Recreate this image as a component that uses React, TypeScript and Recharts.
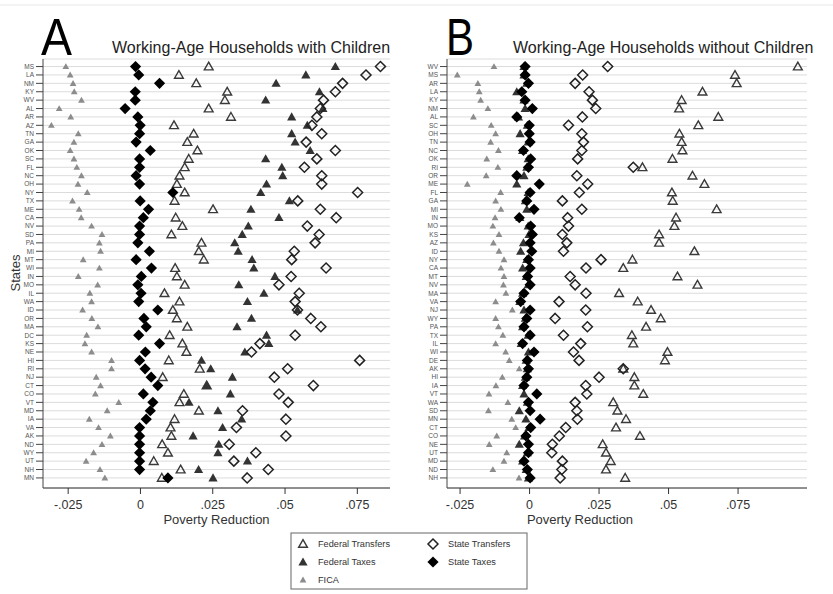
import React from "react";
import { ScatterChart, Scatter, XAxis, YAxis, CartesianGrid } from "recharts";

const FONT = "'Liberation Sans', Arial, Helvetica, sans-serif";

// ---------- Panel A: Working-Age Households with Children ----------
const statesA = ["MS","LA","NM","KY","WV","AL","AR","AZ","TN","GA","OK","SC","FL","NC","OH","NY","TX","ME","CA","NV","SD","PA","MI","MT","WI","IN","MO","IL","WA","ID","OR","MA","DC","KS","NE","HI","RI","NJ","CT","CO","VT","MD","IA","VA","AK","ND","WY","UT","NH","MN"];
const fedTransfersA = [0.0236,0.0133,0.0193,0.0300,0.0292,0.0236,0.0313,0.0116,0.0184,0.0162,0.0197,0.0167,0.0153,0.0135,0.0126,0.0153,0.0118,0.0251,0.0122,0.0145,0.0107,0.0211,0.0202,0.0219,0.0120,0.0126,0.0153,0.0083,0.0135,0.0112,0.0126,0.0162,0.0101,0.0145,0.0159,0.0098,0.0205,0.0077,0.0229,0.0150,0.0135,0.0202,0.0118,0.0104,0.0107,0.0075,0.0095,0.0046,0.0139,0.0074];
const fedTaxesA = [0.0674,0.0572,0.0469,0.0619,0.0433,0.0631,0.0523,0.0577,0.0523,0.0535,0.0587,0.0433,0.0489,0.0492,0.0436,0.0416,0.0515,0.0382,0.0479,0.0373,0.0352,0.0326,0.0338,0.0386,0.0392,0.0465,0.0340,0.0427,0.0370,0.0543,0.0384,0.0334,0.0436,0.0444,0.0361,0.0211,0.0243,0.0318,0.0230,0.0311,0.0168,0.0268,0.0350,0.0284,0.0182,0.0271,0.0268,0.0370,0.0201,0.0251];
const ficaA = [-0.0258,-0.0243,-0.0233,-0.0229,-0.0204,-0.0281,-0.0241,-0.0308,-0.0215,-0.0230,-0.0243,-0.0230,-0.0220,-0.0204,-0.0216,-0.0184,-0.0235,-0.0212,-0.0205,-0.0169,-0.0133,-0.0142,-0.0138,-0.0198,-0.0142,-0.0215,-0.0148,-0.0175,-0.0169,-0.0200,-0.0168,-0.0147,-0.0186,-0.0192,-0.0169,-0.0100,-0.0100,-0.0153,-0.0138,-0.0156,-0.0075,-0.0115,-0.0177,-0.0145,-0.0104,-0.0133,-0.0162,-0.0188,-0.0140,-0.0123];
const stateTransfersA = [0.0830,0.0780,0.0699,0.0674,0.0633,0.0622,0.0610,0.0593,0.0627,0.0573,0.0674,0.0610,0.0567,0.0627,0.0627,0.0751,0.0544,0.0622,0.0677,0.0577,0.0618,0.0604,0.0532,0.0523,0.0642,0.0521,0.0479,0.0549,0.0535,0.0543,0.0589,0.0624,0.0535,0.0413,0.0384,0.0758,0.0509,0.0463,0.0598,0.0479,0.0511,0.0353,0.0503,0.0332,0.0503,0.0307,0.0399,0.0323,0.0442,0.0369];
const stateTaxesA = [-0.0017,-0.0006,0.0066,-0.0018,-0.0018,-0.0053,-0.0009,-0.0001,-0.0003,-0.0015,0.0034,-0.0003,-0.0003,-0.0015,-0.0003,0.0112,-0.0001,0.0028,0.0010,-0.0003,-0.0003,-0.0009,0.0031,-0.0015,0.0038,0.0003,-0.0009,0.0002,-0.0006,0.0060,0.0012,0.0020,-0.0006,0.0066,0.0017,-0.0003,0.0016,0.0037,0.0060,0.0010,0.0043,0.0034,0.0020,-0.0003,-0.0003,-0.0003,-0.0003,-0.0003,-0.0003,0.0095];

// ---------- Panel B: Working-Age Households without Children ----------
const statesB = ["WV","MS","AR","LA","KY","NM","AL","SC","OH","TN","NC","OK","RI","OR","ME","FL","GA","MI","IN","MO","KS","AZ","ID","NY","CA","MT","NV","MA","VA","NJ","WY","PA","TX","IL","WI","DE","AK","HI","IA","VT","WA","SD","MN","CT","CO","NE","UT","MD","ND","NH"];
const fedTransfersB = [0.0965,0.0739,0.0745,0.0622,0.0547,0.0538,0.0679,0.0607,0.0539,0.0547,0.0550,0.0514,0.0406,0.0586,0.0629,0.0512,0.0515,0.0673,0.0527,0.0521,0.0466,0.0466,0.0593,0.0370,0.0337,0.0532,0.0604,0.0322,0.0389,0.0437,0.0472,0.0419,0.0368,0.0373,0.0496,0.0487,0.0337,0.0377,0.0377,0.0409,0.0301,0.0316,0.0347,0.0311,0.0397,0.0263,0.0275,0.0292,0.0275,0.0344];
const fedTaxesB = [-0.0020,-0.0020,-0.0010,-0.0046,-0.0020,-0.0016,-0.0040,-0.0008,-0.0034,-0.0005,-0.0025,-0.0005,-0.0010,-0.0020,-0.0046,-0.0005,-0.0015,-0.0010,-0.0035,-0.0005,-0.0002,-0.0022,-0.0032,-0.0010,-0.0025,-0.0012,-0.0005,-0.0025,-0.0035,-0.0020,-0.0015,-0.0025,-0.0005,-0.0030,-0.0004,-0.0012,-0.0008,-0.0015,-0.0025,-0.0020,-0.0008,-0.0037,-0.0013,-0.0002,-0.0018,-0.0037,-0.0008,-0.0025,-0.0012,-0.0004];
const ficaB = [-0.0128,-0.0260,-0.0186,-0.0181,-0.0176,-0.0150,-0.0202,-0.0138,-0.0122,-0.0140,-0.0112,-0.0154,-0.0114,-0.0156,-0.0224,-0.0104,-0.0122,-0.0103,-0.0124,-0.0132,-0.0110,-0.0130,-0.0110,-0.0092,-0.0103,-0.0092,-0.0094,-0.0085,-0.0122,-0.0062,-0.0122,-0.0112,-0.0096,-0.0122,-0.0086,-0.0073,-0.0037,-0.0098,-0.0121,-0.0146,-0.0078,-0.0148,-0.0064,-0.0050,-0.0118,-0.0145,-0.0082,-0.0092,-0.0132,-0.0038];
const stateTransfersB = [0.0281,0.0191,0.0164,0.0214,0.0226,0.0238,0.0190,0.0140,0.0188,0.0194,0.0188,0.0173,0.0373,0.0170,0.0209,0.0179,0.0118,0.0188,0.0137,0.0140,0.0118,0.0134,0.0122,0.0257,0.0203,0.0146,0.0164,0.0203,0.0106,0.0202,0.0092,0.0208,0.0122,0.0184,0.0158,0.0178,0.0337,0.0250,0.0202,0.0206,0.0164,0.0170,0.0172,0.0130,0.0107,0.0082,0.0080,0.0118,0.0116,0.0110];
const stateTaxesB = [-0.0016,-0.0016,-0.0004,-0.0028,-0.0016,0.0010,-0.0046,-0.0001,-0.0001,0.0002,-0.0022,0.0004,-0.0004,-0.0046,0.0035,0.0002,-0.0010,0.0016,-0.0037,0.0004,0.0010,0.0002,0.0008,-0.0004,0.0002,-0.0007,0.0002,-0.0020,-0.0032,0.0002,-0.0010,-0.0020,0.0002,-0.0025,0.0016,-0.0008,-0.0004,-0.0010,-0.0020,0.0026,-0.0004,0.0002,0.0038,0.0004,-0.0013,-0.0004,-0.0004,-0.0020,-0.0008,0.0002];

const xTicks = [-0.025, 0, 0.025, 0.05, 0.075];
const fmtX = (v: number) =>
  v === 0 ? "0" : (v < 0 ? "-" : "") + String(Math.abs(v)).replace(/^0/, "");

// ---------- marker shapes ----------
const triPath = (cx: number, cy: number, h: number) =>
  `M${cx},${cy - h}L${cx + h},${cy + h * 0.75}L${cx - h},${cy + h * 0.75}Z`;
const diaPath = (cx: number, cy: number, h: number) =>
  `M${cx},${cy - h}L${cx + h},${cy}L${cx},${cy + h}L${cx - h},${cy}Z`;

const TriOpen = (p: any) =>
  p.cx == null ? <g /> : <path d={triPath(p.cx, p.cy, 4.4)} fill="none" stroke="#3a3a3a" strokeWidth={1.4} />;
const TriFilled = (p: any) =>
  p.cx == null ? <g /> : <path d={triPath(p.cx, p.cy, 4.6)} fill="#333333" />;
const TriFica = (p: any) =>
  p.cx == null ? <g /> : <path d={triPath(p.cx, p.cy, 3.4)} fill="#8c8c8c" />;
const DiaOpen = (p: any) =>
  p.cx == null ? <g /> : <path d={diaPath(p.cx, p.cy, 5)} fill="none" stroke="#222" strokeWidth={1.5} />;
const DiaFilled = (p: any) =>
  p.cx == null ? <g /> : <path d={diaPath(p.cx, p.cy, 5.6)} fill="#000" />;

type PanelProps = {
  states: string[];
  ft: number[];
  fx: number[];
  fica: number[];
  st: number[];
  sx: number[];
  domain: [number, number];
  left: number;
  width: number;
  rightMargin: number;
};

function Panel({ states, ft, fx, fica, st, sx, domain, left, width, rightMargin }: PanelProps) {
  const rows = (vals: number[]) => vals.map((v, i) => ({ x: v, y: i, state: states[i] }));
  const yTicks = states.map((_, i) => i);
  return (
    <div style={{ position: "absolute", left, top: 0 }}>
      <ScatterChart width={width} height={540} margin={{ top: 59, right: rightMargin, bottom: 22, left: 0 }}>
        <CartesianGrid horizontal vertical={false} stroke="#dcdcdc" strokeWidth={1} />
        <XAxis
          type="number"
          dataKey="x"
          domain={domain}
          allowDataOverflow
          ticks={xTicks}
          tickFormatter={fmtX}
          interval={0}
          height={30}
          tickSize={6}
          tickMargin={6}
          stroke="#333"
          tick={{ fill: "#333", fontSize: 12.5, fontFamily: FONT }}
        />
        <YAxis
          type="number"
          dataKey="y"
          domain={[-0.9, 50.2]}
          allowDataOverflow
          reversed
          ticks={yTicks}
          tickFormatter={(i: number) => states[i] ?? ""}
          interval={0}
          width={43}
          tickSize={7}
          tickMargin={2}
          stroke="#444"
          tick={{ fill: "#555", fontSize: 6.5, fontFamily: FONT }}
        />
        <Scatter data={rows(ft)} shape={TriOpen} isAnimationActive={false} />
        <Scatter data={rows(fx)} shape={TriFilled} isAnimationActive={false} />
        <Scatter data={rows(fica)} shape={TriFica} isAnimationActive={false} />
        <Scatter data={rows(st)} shape={DiaOpen} isAnimationActive={false} />
        <Scatter data={rows(sx)} shape={DiaFilled} isAnimationActive={false} />
      </ScatterChart>
    </div>
  );
}

const legendItems = [
  { label: "Federal Transfers", col: 0, row: 0, kind: "triOpen" },
  { label: "State Transfers", col: 1, row: 0, kind: "diaOpen" },
  { label: "Federal Taxes", col: 0, row: 1, kind: "triFilled" },
  { label: "State Taxes", col: 1, row: 1, kind: "diaFilled" },
  { label: "FICA", col: 0, row: 2, kind: "triFica" },
];

function LegendSymbol({ kind, cx, cy }: { kind: string; cx: number; cy: number }) {
  if (kind === "triOpen") return <TriOpen cx={cx} cy={cy} />;
  if (kind === "triFilled") return <TriFilled cx={cx} cy={cy} />;
  if (kind === "triFica") return <TriFica cx={cx} cy={cy} />;
  if (kind === "diaOpen") return <DiaOpen cx={cx} cy={cy} />;
  return <DiaFilled cx={cx} cy={cy} />;
}

export default function App() {
  return (
    <div style={{ position: "absolute", left: 0, top: 0, width: 833, height: 594, background: "#fff", overflow: "hidden", fontFamily: FONT }}>
      <Panel
        states={statesA}
        ft={fedTransfersA}
        fx={fedTaxesA}
        fica={ficaA}
        st={stateTransfersA}
        sx={stateTaxesA}
        domain={[-0.0337, 0.0863]}
        left={0}
        width={400}
        rightMargin={10}
      />
      <Panel
        states={statesB}
        ft={fedTransfersB}
        fx={fedTaxesB}
        fica={ficaB}
        st={stateTransfersB}
        sx={stateTaxesB}
        domain={[-0.0297, 0.0998]}
        left={404}
        width={410}
        rightMargin={7}
      />
      <svg width={833} height={594} style={{ position: "absolute", left: 0, top: 0, pointerEvents: "none" }}>
        <line x1={0} y1={5} x2={833} y2={5} stroke="#e8e8e8" strokeWidth={1} />
        <text x={41} y={55} fontSize={52} fontFamily={FONT} fill="#000" textLength={31} lengthAdjust="spacingAndGlyphs">A</text>
        <text x={112} y={53} fontSize={16} fontFamily={FONT} fill="#222">Working-Age Households with Children</text>
        <text x={446} y={55} fontSize={52} fontFamily={FONT} fill="#000" textLength={28} lengthAdjust="spacingAndGlyphs">B</text>
        <text x={513} y={53} fontSize={16} fontFamily={FONT} fill="#222">Working-Age Households without Children</text>
        <text x={216.5} y={523.5} fontSize={13} fontFamily={FONT} fill="#333" textAnchor="middle">Poverty Reduction</text>
        <text x={580} y={523.5} fontSize={13} fontFamily={FONT} fill="#333" textAnchor="middle">Poverty Reduction</text>
        <text x={19.5} y={273} fontSize={13} fontFamily={FONT} fill="#333" textAnchor="middle" transform="rotate(-90 19.5 273)">States</text>
        <rect x={291} y={533} width={236} height={56} fill="#fff" stroke="#666" strokeWidth={1} />
        {legendItems.map((it) => {
          const cx = it.col === 0 ? 303 : 433;
          const cy = 544 + it.row * 18;
          return (
            <g key={it.label}>
              <LegendSymbol kind={it.kind} cx={cx} cy={cy} />
              <text x={cx + 15} y={cy + 3.3} fontSize={9.2} fontFamily={FONT} fill="#333">{it.label}</text>
            </g>
          );
        })}
      </svg>
    </div>
  );
}
